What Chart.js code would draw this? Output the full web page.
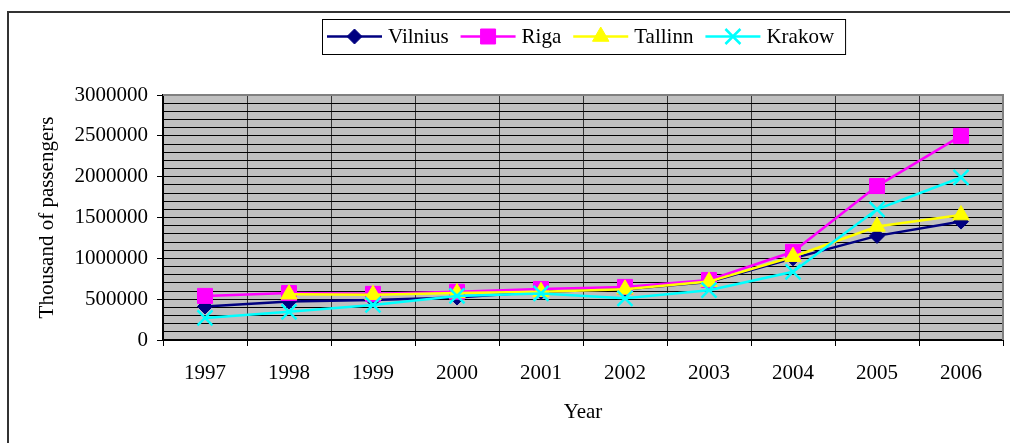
<!DOCTYPE html>
<html>
<head>
<meta charset="utf-8">
<script src="https://cdn.jsdelivr.net/npm/chart.js@4.4.0/dist/chart.umd.min.js"></script>
<style>
  html, body { margin: 0; padding: 0; background: #fff; }
  #wrap { width: 1010px; height: 443px; position: relative; }
</style>
</head>
<body>
<div id="wrap"><canvas id="passengerChart"></canvas></div>
<script>
// Categories on the x-axis
const years = ["1997", "1998", "1999", "2000", "2001", "2002", "2003", "2004", "2005", "2006"];

// Passenger values per airport
const vilnius = [410000, 470000, 490000, 520000, 590000, 620000, 710000, 1000000, 1275000, 1450000];
const riga = [540000, 575000, 565000, 590000, 625000, 650000, 735000, 1080000, 1885000, 2500000];
const tallinn = [null, 560000, 555000, 575000, 590000, 620000, 715000, 1020000, 1390000, 1530000];
const krakow = [270000, 345000, 430000, 540000, 570000, 510000, 610000, 835000, 1600000, 1990000];

// Axis settings
const yMax = 3000000;
const yMinorStep = 100000;
const yLabelStep = 500000;

const serif = "'Liberation Serif', 'Times New Roman', serif";

// Build a dataset with marker styling
const makeSeries = (label, data, color, pointStyle, radius, order) => ({
  label: label,
  data: data,
  borderColor: color,
  backgroundColor: color,
  borderWidth: 2.5,
  pointStyle: pointStyle,
  pointRadius: radius,
  pointHoverRadius: radius,
  pointBackgroundColor: color,
  pointBorderColor: color,
  pointBorderWidth: pointStyle === "crossRot" ? 2.5 : 1,
  tension: 0,
  order: order, // krakow on top, vilnius at the bottom
});

const chartData = {
  labels: years,
  datasets: [
    makeSeries("Vilnius", vilnius, "#000080", "rectRot", 7.5, 3),
    makeSeries("Riga", riga, "#FF00FF", "rect", 10.6, 2),
    makeSeries("Tallinn", tallinn, "#FFFF00", "triangle", 9.5, 1),
    makeSeries("Krakow", krakow, "#00FFFF", "crossRot", 10.6, 0),
  ],
};

// Grey plot background, plot frame, outer frame and the boxed legend
const excelLook = {
  id: "excelLook",
  beforeDraw: (chart) => {
    const { ctx, chartArea: a } = chart;
    ctx.save();
    ctx.fillStyle = "#C0C0C0";
    ctx.fillRect(a.left, a.top, a.right - a.left, a.bottom - a.top);
    ctx.restore();
  },
  beforeDatasetsDraw: (chart) => {
    const { ctx, chartArea: a } = chart;
    ctx.save();
    ctx.strokeStyle = "#808080";
    ctx.lineWidth = 2;
    ctx.beginPath();
    ctx.moveTo(a.left, a.top);
    ctx.lineTo(a.right, a.top);
    ctx.lineTo(a.right, a.bottom);
    ctx.stroke();
    ctx.restore();
  },
  afterDraw: (chart) => {
    const ctx = chart.ctx;
    ctx.save();
    // outer frame (left and top edges only are in view)
    ctx.strokeStyle = "#333";
    ctx.lineWidth = 2;
    ctx.beginPath();
    ctx.moveTo(8, chart.height);
    ctx.lineTo(8, 12);
    ctx.lineTo(chart.width, 12);
    ctx.stroke();

    // legend
    ctx.font = "21px " + serif;
    const lineLen = 55;
    const boxLeft = 322;
    const boxTop = 19;
    const boxHeight = 35;
    const midY = boxTop + boxHeight / 2;
    let x = boxLeft + 5;
    chart.data.datasets.forEach((ds) => {
      ctx.strokeStyle = ds.borderColor;
      ctx.lineWidth = ds.borderWidth;
      ctx.beginPath();
      ctx.moveTo(x, midY);
      ctx.lineTo(x + lineLen, midY);
      ctx.stroke();
      ctx.fillStyle = ds.pointBackgroundColor;
      ctx.strokeStyle = ds.pointBorderColor;
      ctx.lineWidth = ds.pointBorderWidth;
      Chart.helpers.drawPoint(ctx, {
        pointStyle: ds.pointStyle,
        radius: ds.pointRadius,
        rotation: 0,
        borderWidth: ds.pointBorderWidth,
      }, x + lineLen / 2, midY);
      ctx.fillStyle = "#000";
      ctx.textAlign = "left";
      ctx.textBaseline = "middle";
      ctx.fillText(ds.label, x + lineLen + 6, midY + 1);
      x += lineLen + 6 + ctx.measureText(ds.label).width + 12;
    });
    ctx.strokeStyle = "#000";
    ctx.lineWidth = 1;
    ctx.strokeRect(boxLeft + 0.5, boxTop + 0.5, x - 1 - boxLeft, boxHeight);
    ctx.restore();
  },
};

new Chart(document.querySelector("#passengerChart"), {
  type: "line",
  data: chartData,
  plugins: [excelLook],
  options: {
    responsive: true,
    maintainAspectRatio: false,
    animation: false,
    layout: {
      autoPadding: false, // markers may overhang the plot edge
      padding: { top: 95, right: 7, bottom: 0, left: 0 },
    },
    scales: {
      x: {
        offset: true,
        grid: {
          offset: true,
          color: "#333",
          lineWidth: 1,
          tickLength: 6,
          tickColor: "#000",
        },
        border: { color: "#000", width: 2 },
        ticks: {
          color: "#000",
          font: { family: serif, size: 21 },
          padding: 15,
          maxRotation: 0,
        },
        title: {
          display: true,
          text: "Year",
          color: "#000",
          font: { family: serif, size: 21 },
          padding: { top: 0, bottom: 18 },
        },
        afterFit: (scale) => {
          scale.height = 103;
          // no extra side room for the end labels
          scale.paddingLeft = 0;
          scale.paddingRight = 0;
        },
      },
      y: {
        min: 0,
        max: yMax,
        grid: {
          color: "#000",
          lineWidth: 1,
          tickLength: 6,
          // tick marks only where a label is shown
          tickColor: (ctx) =>
            ctx.tick && ctx.tick.value % yLabelStep === 0 ? "#000" : "rgba(0,0,0,0)",
        },
        border: { color: "#000", width: 2 },
        ticks: {
          stepSize: yMinorStep,
          autoSkip: false,
          color: "#000",
          font: { family: serif, size: 21 },
          padding: 9,
          callback: (value) => (value % yLabelStep === 0 ? String(value) : ""),
        },
        title: {
          display: true,
          text: "Thousand of passengers",
          color: "#000",
          font: { family: serif, size: 21 },
          padding: { top: 35, bottom: 0 },
        },
        afterFit: (scale) => {
          scale.width = 163;
        },
      },
    },
    plugins: {
      legend: { display: false },
      tooltip: { enabled: false },
    },
  },
});
</script>
</body>
</html>
